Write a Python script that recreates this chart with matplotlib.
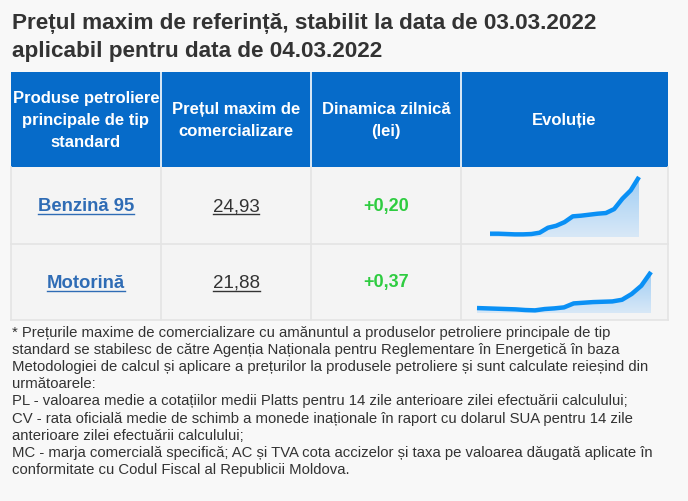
import numpy as np
import matplotlib
matplotlib.use("Agg")
import matplotlib.pyplot as plt
from matplotlib.patches import Rectangle, Polygon
from matplotlib.colors import LinearSegmentedColormap

W, H = 688, 501

title_lines = ["Prețul maxim de referință, stabilit la data de 03.03.2022",
               "aplicabil pentru data de 04.03.2022"]
headers = ["Produse petroliere\nprincipale de tip\nstandard",
           "Prețul maxim de\ncomercializare",
           "Dinamica zilnică\n(lei)",
           "Evoluție"]
products = ["Benzină 95", "Motorină"]
prices = ["24,93", "21,88"]
changes = ["+0,20", "+0,37"]

# price history (lei)
hist_benzina = [21.50, 21.50, 21.48, 21.46, 21.46, 21.48, 21.56, 21.86, 21.98, 22.20,
                22.55, 22.59, 22.65, 22.71, 22.75, 22.99, 23.62, 24.12, 24.93]
hist_motorina = [19.70, 19.68, 19.66, 19.64, 19.62, 19.58, 19.56, 19.64, 19.68, 19.74,
                 19.98, 20.02, 20.06, 20.08, 20.10, 20.20, 20.55, 21.05, 21.88]
histories = [hist_benzina, hist_motorina]

footer = ["* Prețurile maxime de comercializare cu amănuntul a produselor petroliere principale de tip",
          "standard se stabilesc de către Agenția Naționala pentru Reglementare în Energetică în baza",
          "Metodologiei de calcul și aplicare a prețurilor la produsele petroliere și sunt calculate reieșind din",
          "următoarele:",
          "PL - valoarea medie a cotațiilor medii Platts pentru 14 zile anterioare zilei efectuării calculului;",
          "CV - rata oficială medie de schimb a monede inaționale în raport cu dolarul SUA pentru 14 zile",
          "anterioare zilei efectuării calculului;",
          "MC - marja comercială specifică; AC și TVA cota accizelor și taxa pe valoarea dăugată aplicate în",
          "conformitate cu Codul Fiscal al Republicii Moldova."]

BG = "#f8f8f8"
CELL = "#f4f4f4"
BORDER = "#e4e4e4"
HEAD = "#066bc9"
LINE = "#0a90f5"
SANS = ["Liberation Sans", "DejaVu Sans"]

fig = plt.figure(figsize=(W / 100, H / 100), dpi=100, facecolor=BG)
ax = fig.add_axes([0, 0, 1, 1])
ax.set_xlim(0, W); ax.set_ylim(H, 0); ax.axis("off")

# title
for i, t in enumerate(title_lines):
    ax.text(12, 23 + i * 28, t, fontsize=16.2, fontweight="bold", color="#333333",
            family=SANS, va="center", ha="left")

# table geometry
cols = [11, 161, 311, 461, 668]
rows = [72, 167, 244, 320]

ax.add_patch(Rectangle((cols[0], rows[0]), cols[-1] - cols[0], rows[1] - rows[0],
                       facecolor=HEAD, edgecolor="none"))
ax.add_patch(Rectangle((cols[0], rows[1]), cols[-1] - cols[0], rows[-1] - rows[1],
                       facecolor=CELL, edgecolor="none"))
for x in cols[1:-1]:
    ax.plot([x, x], [rows[0], rows[1]], color="white", lw=1.2)
for x in cols:
    ax.plot([x, x], [rows[1], rows[-1]], color=BORDER, lw=1.2)
for y in rows[2:]:
    ax.plot([cols[0], cols[-1]], [y, y], color=BORDER, lw=1.2)

for j, h in enumerate(headers):
    ax.text((cols[j] + cols[j + 1]) / 2, (rows[0] + rows[1]) / 2 + 1, h, color="white",
            fontsize=12, fontweight="bold", family=SANS, ha="center", va="center",
            linespacing=1.6)

underline = []
for i in range(len(products)):
    yc = (rows[i + 1] + rows[i + 2]) / 2 + 1
    t1 = ax.text((cols[0] + cols[1]) / 2, yc, products[i], color="#2f6cb5", fontsize=13.3,
                 fontweight="bold", family=SANS, ha="center", va="center")
    t2 = ax.text((cols[1] + cols[2]) / 2, yc, prices[i], color="#333333", fontsize=13.5,
                 family=SANS, ha="center", va="center")
    ax.text((cols[2] + cols[3]) / 2, yc, changes[i], color="#2ecc40", fontsize=13,
            fontweight="bold", family=SANS, ha="center", va="center")
    underline += [(t1, "#2f6cb5"), (t2, "#333333")]

# footer
for i, t in enumerate(footer):
    ax.text(12, 333 + i * 17.1, t, fontsize=10.7, color="#333333", family=SANS,
            ha="left", va="center")

# underline links
fig.canvas.draw()
inv = ax.transData.inverted()
for t, c in underline:
    bb = t.get_window_extent()
    (x0, y0), (x1, y1) = inv.transform([[bb.x0, bb.y0], [bb.x1, bb.y1]])
    ax.plot([x0, x1], [y0 - 1, y0 - 1], color=c, lw=1.0)

# sparklines: pixel boxes (left, right, top of max, baseline) and baseline value
boxes = [(490, 639, 177, 237, 21.30), (477, 651, 272, 313, 19.40)]
cmap = LinearSegmentedColormap.from_list("fill", ["#d8e8f7", "#9fcdf4"])
for (xl, xr, yt, yb, base), hist in zip(boxes, histories):
    sax = fig.add_axes([xl / W, 1 - yb / H, (xr - xl) / W, (yb - yt) / H])
    sax.axis("off")
    n = len(hist)
    xs = np.arange(n)
    top = max(hist)
    sax.set_xlim(0, n - 1); sax.set_ylim(base, top)
    grad = np.linspace(0, 1, 100).reshape(-1, 1)
    im = sax.imshow(grad, cmap=cmap, aspect="auto", extent=[0, n - 1, base, top],
                    origin="lower")
    poly = Polygon([(0, base)] + list(zip(xs, hist)) + [(n - 1, base)],
                   closed=True, facecolor="none", edgecolor="none", transform=sax.transData)
    sax.add_patch(poly)
    im.set_clip_path(poly)
    sax.plot(xs, hist, color=LINE, lw=3.2, solid_capstyle="butt", clip_on=False)

fig.savefig("out.png", dpi=100, facecolor=BG)
